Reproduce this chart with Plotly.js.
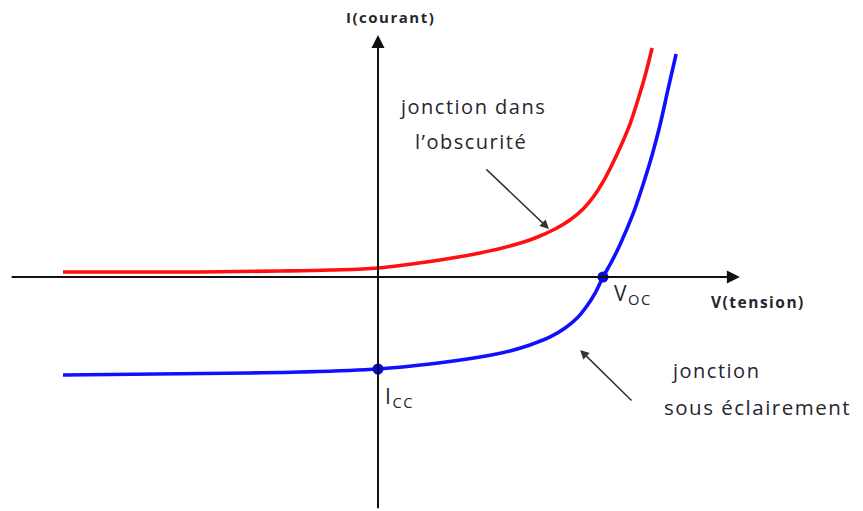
<!DOCTYPE html>
<html>
<head>
<meta charset="utf-8">
<script src="https://cdn.plot.ly/plotly-3.0.1.min.js"></script>
<style>
  html, body { margin: 0; padding: 0; background: #fff; }
  #chart { width: 863px; height: 511px; }
  .annotation-text { letter-spacing: 1.5px; }
</style>
</head>
<body>
<div id="chart"></div>
<script>
// Caractéristique I(V) d'une cellule photovoltaïque (unités arbitraires)
const vDark  = [-0.84, -0.475, -0.261, -0.128, 0.00, 0.165, 0.272, 0.352, 0.419, 0.472, 0.512, 0.547, 0.576, 0.60, 0.621, 0.645, 0.672, 0.693, 0.712, 0.731];
const iDark  = [0.054, 0.054, 0.065, 0.076, 0.098, 0.185, 0.261, 0.337, 0.424, 0.522, 0.620, 0.739, 0.880, 1.033, 1.196, 1.402, 1.663, 1.924, 2.185, 2.489];

const vLight = [-0.84, -0.341, -0.208, 0.00, 0.139, 0.272, 0.352, 0.405, 0.459, 0.499, 0.531, 0.557, 0.579, 0.60, 0.621, 0.645, 0.68, 0.709, 0.731, 0.752, 0.773, 0.795];
const iLight = [-1.065, -1.043, -1.033, -1.00, -0.946, -0.870, -0.804, -0.739, -0.652, -0.554, -0.446, -0.315, -0.174, 0.00, 0.152, 0.348, 0.685, 1.033, 1.326, 1.652, 2.033, 2.424];

// Points remarquables : courant de court-circuit et tension de circuit ouvert
const keyV = [0.00, 0.60];
const keyI = [-1.00, 0.00];

const textColor = '#262630';
const font = '"Open Sans", Lato, sans-serif';

const traces = [
  { x: vDark, y: iDark, type: 'scatter', mode: 'lines',
    line: { color: '#ff1010', width: 3.6, shape: 'spline', smoothing: 1 }, hoverinfo: 'skip' },
  { x: vLight, y: iLight, type: 'scatter', mode: 'lines',
    line: { color: '#1010ff', width: 3.6, shape: 'spline', smoothing: 1 }, hoverinfo: 'skip' },
  { x: keyV, y: keyI, type: 'scatter', mode: 'markers',
    marker: { color: '#0a0ad0', size: 11 }, hoverinfo: 'skip' }
];

function label(text, x, y, size, opts) {
  return Object.assign({
    text: text, x: x, y: y, xref: 'x', yref: 'y', showarrow: false,
    font: { family: font, size: size, color: textColor }
  }, opts || {});
}

function arrow(x0, y0, x1, y1, color, width, head, size) {
  return {
    text: '', x: x1, y: y1, ax: x0, ay: y0,
    xref: 'x', yref: 'y', axref: 'x', ayref: 'y',
    showarrow: true, arrowhead: head, arrowsize: size, arrowwidth: width,
    arrowcolor: color, standoff: 0, startstandoff: 0
  };
}

const layout = {
  width: 863, height: 511,
  margin: { l: 0, r: 0, t: 0, b: 0 },
  paper_bgcolor: '#fff', plot_bgcolor: '#fff',
  showlegend: false,
  xaxis: { range: [-1.008, 1.2933], visible: false, fixedrange: true },
  yaxis: { range: [-2.5435, 3.0109], visible: false, fixedrange: true },
  annotations: [
    // axes
    arrow(-0.981, 0, 0.965, 0, '#111', 2, 2, 1.3),
    arrow(0, -2.53, 0, 2.63, '#111', 2, 2, 1.3),
    // titres des axes
    label('<b>I(courant)</b>', 0.032, 2.826, 15),
    label('<b>V(tension)</b>', 1.013, -0.272, 15.5),
    // points remarquables
    label('V<sub>OC</sub>', 0.625, -0.19, 21, { xanchor: 'left' }),
    label('I<sub>CC</sub>', 0.012, -1.30, 21, { xanchor: 'left' }),
    // légendes des courbes
    label('jonction dans', 0.251, 1.848, 20),
    label('l’obscurité', 0.248, 1.478, 20),
    arrow(0.285, 1.185, 0.456, 0.522, '#333', 1.5, 2, 1.2),
    label('jonction', 0.901, -1.011, 20),
    label('sous éclairement', 1.011, -1.413, 20.5),
    arrow(0.68, -1.359, 0.539, -0.793, '#333', 1.5, 2, 1.2)
  ]
};

Plotly.newPlot('chart', traces, layout, { staticPlot: true, displayModeBar: false });
</script>
</body>
</html>
